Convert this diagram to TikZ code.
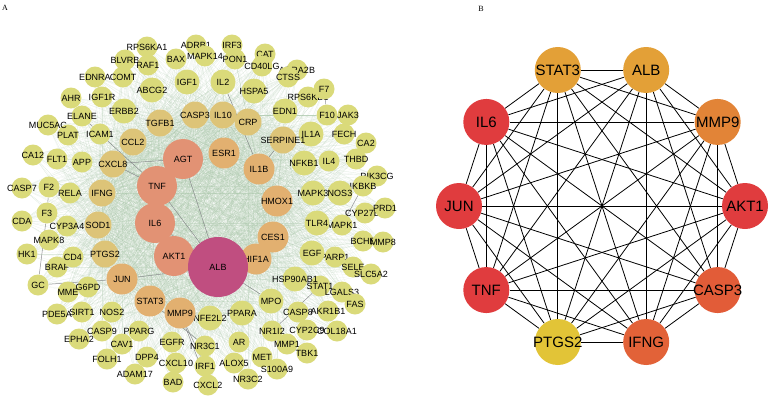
\documentclass[tikz,border=0pt]{standalone}
\usepackage{fontspec}
\setmainfont{Liberation Sans}
\newfontfamily\serifpanel{Liberation Serif}
\pgfdeclarelayer{bg}
\pgfsetlayers{bg,main}
\definecolor{ylw}{RGB}{218,218,122}
\definecolor{tanc}{RGB}{221,196,120}
\definecolor{orgc}{RGB}{226,176,112}
\definecolor{slmc}{RGB}{226,146,116}
\definecolor{albc}{RGB}{192,78,128}
\definecolor{meshc}{RGB}{165,195,165}
\definecolor{darkl}{RGB}{120,120,125}
\definecolor{bgold}{RGB}{227,160,55}
\definecolor{bmmp}{RGB}{226,132,55}
\definecolor{bred}{RGB}{224,60,62}
\definecolor{bcasp}{RGB}{226,92,56}
\definecolor{bifng}{RGB}{226,98,56}
\definecolor{bptgs}{RGB}{226,196,55}
\tikzset{
  zerow/.style={execute at begin node={\hbox to 0pt\bgroup\hss},execute at end node={\hss\egroup}},
  ya/.style={circle,inner sep=0pt,minimum size=21pt,fill=ylw,zerow,font=\fontsize{9}{10}\selectfont},
  yb/.style={ya,minimum size=25pt},
  ta/.style={ya,minimum size=27pt,fill=tanc},
  oa/.style={ya,minimum size=31pt,fill=orgc},
  sa/.style={ya,minimum size=40pt,fill=slmc},
  alba/.style={ya,minimum size=60pt,fill=albc},
  meshline/.style={draw=meshc,line width=0.15pt,opacity=0.28},
  darkline/.style={draw=darkl,line width=0.5pt,opacity=0.8},
  bnode/.style={circle,inner sep=0pt,minimum size=46pt,zerow,font=\fontsize{15}{16}\selectfont},
  bedge/.style={draw=black,line width=0.8pt},
  plabel/.style={font=\serifpanel\fontsize{8}{9}\selectfont,inner sep=0pt}
}
\begin{document}
\begin{tikzpicture}[x=1pt,y=-1pt]
\useasboundingbox (0,0) rectangle (774,399);
\node[plabel] (labA) at (5,8) {A};
\node[plabel] (labB) at (481,9) {B};
% ---------- panel A nodes ----------
\foreach \n/\x/\y in {RPS6KA1/147/47,ADRB1/196/45,IRF3/232/45,CAT/265/54,BAX/176/59,MAPK14/205/56,PON1/235/59,
  CD40LG/262/66,ADRA2B/297/70,CTSS/288/77,BLVRB/125/60,RAF1/148/65,EDNRA/95/77,COMT/123/77,
  IGF1R/102/97,AHR/71/98,RPS6KB1/308/97,F7/324/89,F10/327/115,JAK3/348/115,FECH/344/134,
  CA2/366/143,THBD/356/159,IL4/329/161,PIK3CG/377/176,IKBKB/363/186,NOS3/340/193,CYP27B1/365/213,
  PRD1/385/208,MAPK1/342/225,BCHE/363/241,MMP8/383/242,PARP1/335/257,SELE/353/267,SLC5A2/371/274,
  STAT1/320/286,LGALS3/342/292,FAS/355/304,CASP8/298/312,AKR1B1/328/311,CYP2C9/307/330,COL18A1/337/331,
  NR1I2/272/331,MMP1/287/344,TBK1/307/353,MET/262/357,S100A9/277/369,NR3C2/248/379,ALOX5/234/363,
  AR/239/342,NR3C1/205/346,IRF1/205/366,CXCL2/208/385,CXCL10/176/363,EGFR/172/342,BAD/173/382,
  PPARG/139/331,DPP4/147/357,ADAM17/135/374,CAV1/122/344,CASP9/102/331,FOLH1/107/359,EPHA2/79/339,
  NOS2/112/312,SIRT1/82/312,PDE5A/57/314,GC/38/285,MME/68/292,G6PD/88/287,BRAF/57/267,CD4/73/257,
  HK1/27/254,MAPK8/49/240,CYP3A4/67/226,CDA/22/221,F3/47/213,RELA/70/193,F2/49/187,CASP7/22/188,
  CA12/33/155,FLT1/57/159,APP/82/162,ICAM1/100/134,PLAT/68/135,ELANE/82/116,MUC5AC/48/125}
  \node[ya] (\n) at (\x,\y) {\n};
\foreach \n/\x/\y in {IGF1/187/82,IL2/223/82,HSPA5/254/91,ABCG2/152/90,ERBB2/124/111,EDN1/285/111,
  IL1A/311/134,NFKB1/304/163,MAPK3/313/193,TLR4/317/223,EGF/312/253,HSP90AB1/295/279,MPO/271/301,
  PPARA/242/313,NFE2L2/210/318}
  \node[yb] (\n) at (\x,\y) {\n};
\node[yb] (NOS3b) at (340,193) {NOS3};
\foreach \n/\x/\y in {CASP3/195/115,IL10/223/115,CRP/248/122,TGFB1/160/123,SERPINE1/283/140,
  CCL2/133/142,CXCL8/113/164,IFNG/102/193,SOD1/98/225,PTGS2/105/254}
  \node[ta] (\n) at (\x,\y) {\n};
\foreach \n/\x/\y in {ESR1/224/153,IL1B/259/169,HMOX1/277/201,CES1/273/237,HIF1A/256/259,
  STAT3/150/301,JUN/122/279,MMP9/180/313}
  \node[oa] (\n) at (\x,\y) {\n};
\foreach \n/\x/\y in {AGT/183/159,TNF/157/186,IL6/155/223,AKT1/174/256}
  \node[sa] (\n) at (\x,\y) {\n};
\node[alba] (ALB) at (218,267) {ALB};
% ---------- panel A edges ----------
\def\allA{RPS6KA1,ADRB1,IRF3,CAT,BAX,MAPK14,PON1,CD40LG,ADRA2B,CTSS,BLVRB,RAF1,EDNRA,COMT,
  IGF1R,AHR,RPS6KB1,F7,F10,JAK3,FECH,CA2,THBD,IL4,PIK3CG,IKBKB,NOS3,CYP27B1,PRD1,MAPK1,BCHE,MMP8,
  PARP1,SELE,SLC5A2,STAT1,LGALS3,FAS,CASP8,AKR1B1,CYP2C9,COL18A1,NR1I2,MMP1,TBK1,MET,S100A9,NR3C2,
  ALOX5,AR,NR3C1,IRF1,CXCL2,CXCL10,EGFR,BAD,PPARG,DPP4,ADAM17,CAV1,CASP9,FOLH1,EPHA2,NOS2,SIRT1,
  PDE5A,GC,MME,G6PD,BRAF,CD4,HK1,MAPK8,CYP3A4,CDA,F3,RELA,F2,CASP7,CA12,FLT1,APP,ICAM1,PLAT,ELANE,
  MUC5AC,IGF1,IL2,HSPA5,ABCG2,ERBB2,EDN1,IL1A,NFKB1,MAPK3,TLR4,EGF,HSP90AB1,MPO,PPARA,NFE2L2,
  CASP3,IL10,CRP,TGFB1,SERPINE1,CCL2,CXCL8,IFNG,SOD1,PTGS2,ESR1,IL1B,HMOX1,CES1,HIF1A,STAT3,JUN,MMP9}
\begin{pgfonlayer}{bg}
\foreach \h in {ALB,AKT1,IL6,TNF,AGT,ESR1,IL1B,HMOX1,CES1,HIF1A,STAT3,JUN,MMP9,CASP3,IL10,CRP,TGFB1,
  SERPINE1,CCL2,CXCL8,IFNG,SOD1,PTGS2}{
  \foreach \n in \allA { \draw[meshline] (\h) -- (\n); }
}
\foreach \a/\b in {ICAM1/TNF,CXCL8/AGT,CXCL8/TNF,F2/F3,F3/GC,GC/JUN,JUN/ALB,F7/F10,MMP9/CXCL2,
  MMP9/IRF1,ALB/MPO,IL1B/SERPINE1,ELANE/ICAM1,STAT1/NR1I2,TNF/ALB,IL2/IL1B,IKBKB/MAPK1,
  HSP90AB1/STAT1,STAT3/NR3C1,AKT1/IL6,IL6/TNF,TNF/AGT,AGT/ALB,ALB/HIF1A,IL6/ALB}
  \draw[darkline] (\a) -- (\b);
\end{pgfonlayer}
% ---------- panel B ----------
\foreach \i/\ang/\lab/\col in {1/108/STAT3/bgold,2/72/ALB/bgold,3/36/MMP9/bmmp,4/0/AKT1/bred,
  5/-36/CASP3/bcasp,6/-72/IFNG/bifng,7/-108/PTGS2/bptgs,8/-144/TNF/bred,9/180/JUN/bred,10/144/IL6/bred}
  \node[bnode,fill=\col] (b\i) at ({602+143*cos(\ang)},{206-143*sin(\ang)}) {\lab};
\begin{pgfonlayer}{bg}
\foreach \i in {1,...,9}{
  \pgfmathtruncatemacro\s{\i+1}
  \foreach \j in {\s,...,10}{ \draw[bedge] (b\i) -- (b\j); }
}
\end{pgfonlayer}
\end{tikzpicture}
\end{document}
